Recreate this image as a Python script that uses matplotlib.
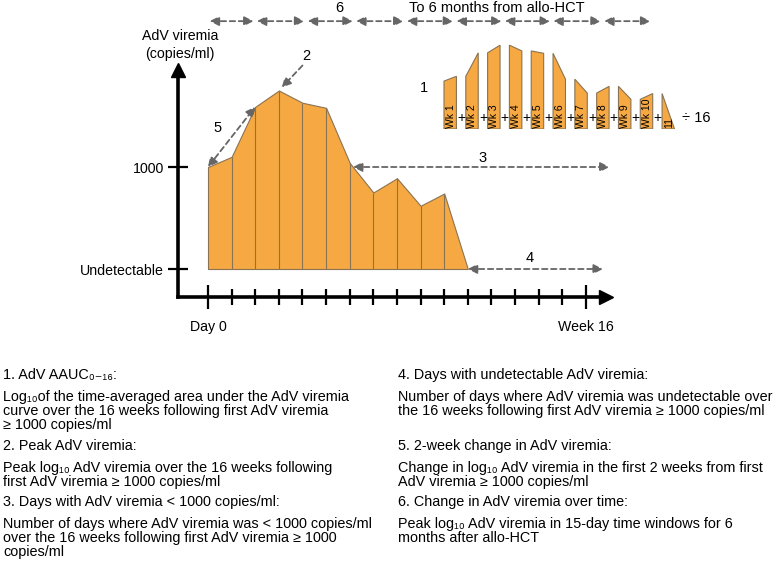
#!/usr/bin/env python3
"""Schematic of the AdV viremia summary measures (AAUC, peak, days < 1000, ...)."""

import matplotlib.pyplot as plt
import numpy as np

plt.rcParams["font.family"] = ["Liberation Sans", "DejaVu Sans"]

# schematic viremia course, log10 copies/ml per week from first viremia >= 1000
WEEKS = np.arange(12)
LOG_VIREMIA = np.array([3.0, 3.10, 3.59, 3.75, 3.63, 3.58, 3.04, 2.75, 2.89, 2.62, 2.74, 2.0])
UNDETECTABLE = 2.0
THRESHOLD = 3.0  # log10(1000)

Y_TICKS = [UNDETECTABLE, THRESHOLD]
Y_TICK_LABELS = ["Undetectable", "1000"]
X_TICKS = [0, 16]
X_TICK_LABELS = ["Day 0", "Week 16"]
INSET_LABELS = ["Wk 1", "Wk 2", "Wk 3", "Wk 4", "Wk 5", "Wk 6", "Wk 7", "Wk 8", "Wk 9", "Wk 10", "11"]

# 15-day windows (in weeks) up to the right edge of the figure
WINDOW_EDGES_WK = [0, 2.0, 4.15, 6.2, 8.35, 10.45, 12.5, 14.55, 16.7, 18.8]

LEFT_BLOCKS = [
    ("1. AdV AAUC\u2080\u208b\u2081\u2086:",
     ["Log\u2081\u2080of the time-averaged area under the AdV viremia",
      "curve over the 16 weeks following first AdV viremia",
      "\u2265 1000 copies/ml"]),
    ("2. Peak AdV viremia:",
     ["Peak log\u2081\u2080 AdV viremia over the 16 weeks following",
      "first AdV viremia \u2265 1000 copies/ml"]),
    ("3. Days with AdV viremia < 1000 copies/ml:",
     ["Number of days where AdV viremia was < 1000 copies/ml",
      "over the 16 weeks following first AdV viremia \u2265 1000",
      "copies/ml"]),
]
RIGHT_BLOCKS = [
    ("4. Days with undetectable AdV viremia:",
     ["Number of days where AdV viremia was undetectable over",
      "the 16 weeks following first AdV viremia \u2265 1000 copies/ml"]),
    ("5. 2-week change in AdV viremia:",
     ["Change in log\u2081\u2080 AdV viremia in the first 2 weeks from first",
      "AdV viremia \u2265 1000 copies/ml"]),
    ("6. Change in AdV viremia over time:",
     ["Peak log\u2081\u2080 AdV viremia in 15-day time windows for 6",
      "months after allo-HCT"]),
]

W, H = 779, 566
FILL = "#f6a843"
EDGE = "#8a7352"
ARROW = "#666666"


def fig_box(left, top, right, bottom):
    return [left / W, 1 - bottom / H, (right - left) / W, (bottom - top) / H]


def dashed_arrow(ax, start, end, style="<|-|>", shrink=0):
    ax.annotate(
        "",
        xy=end,
        xytext=start,
        arrowprops=dict(
            arrowstyle=style + ",head_length=0.55,head_width=0.28",
            color=ARROW,
            lw=1.3,
            linestyle=(0, (3, 2)),
            shrinkA=shrink,
            shrinkB=shrink,
        ),
        annotation_clip=False,
    )


def label(ax, x, y, s):
    ax.text(x, y, s, ha="center", va="center", fontsize=10.5)


fig = plt.figure(figsize=(W / 100, H / 100), dpi=100)

# main curve
ax = fig.add_axes(fig_box(178, 70, 606, 297))
ax.set_xlim(-1.27, 16.85)
ax.set_ylim(1.7255, 3.951)
ax.spines[["top", "right"]].set_visible(False)
for side in ("left", "bottom"):
    ax.spines[side].set_linewidth(2.6)
ax.plot(1, 0, ">", color="black", ms=10, transform=ax.transAxes, clip_on=False)
ax.plot(0, 1, "^", color="black", ms=10, transform=ax.transAxes, clip_on=False)

ax.set_xticks(X_TICKS, X_TICK_LABELS)
ax.set_xticks(range(1, 16), minor=True)
ax.tick_params(axis="x", which="major", direction="inout", length=17, width=1.6, pad=8, labelsize=10.2)
ax.tick_params(axis="x", which="minor", direction="inout", length=11, width=1.6)
ax.set_yticks(Y_TICKS, Y_TICK_LABELS)
ax.tick_params(axis="y", direction="inout", length=14, width=1.6, pad=3, labelsize=10.2)

ax.fill_between(WEEKS, UNDETECTABLE, LOG_VIREMIA, facecolor=FILL, edgecolor=EDGE, lw=0.8)
ax.vlines(WEEKS[1:-1], UNDETECTABLE, LOG_VIREMIA[1:-1], color=EDGE, lw=0.8)

fig.text(180 / W, 1 - 45 / H, "AdV viremia\n(copies/ml)", ha="center", va="center",
         fontsize=10.2, linespacing=1.3)

# 2: peak
peak_i = int(np.argmax(LOG_VIREMIA))
peak = (WEEKS[peak_i], LOG_VIREMIA[peak_i])
ax.annotate("", xy=peak, xytext=(17, 18), textcoords="offset points",
            arrowprops=dict(arrowstyle="-|>,head_length=0.55,head_width=0.28", color=ARROW,
                            lw=1.3, linestyle=(0, (3, 2)), shrinkA=0, shrinkB=3),
            annotation_clip=False)
ax.annotate("2", xy=peak, xytext=(20, 25), textcoords="offset points",
            ha="center", va="center", fontsize=10.5)

# 5: 2-week change
dashed_arrow(ax, (WEEKS[0], LOG_VIREMIA[0]), (WEEKS[2], LOG_VIREMIA[2]))
label(ax, 0.42, 3.38, "5")

# 3: days below 1000 copies/ml
k = peak_i + int(np.argmax(LOG_VIREMIA[peak_i:] < THRESHOLD)) - 1
cross = WEEKS[k] + (LOG_VIREMIA[k] - THRESHOLD) / (LOG_VIREMIA[k] - LOG_VIREMIA[k + 1])
dashed_arrow(ax, (cross, THRESHOLD), (17.0, THRESHOLD))
label(ax, 11.64, 3.085, "3")

# 4: days undetectable
last = WEEKS[-1]
dashed_arrow(ax, (last, UNDETECTABLE), (16.72, UNDETECTABLE))
label(ax, 13.63, 2.11, "4")

# 6: 15-day windows
y_top = 4.43
for a, b in zip(WINDOW_EDGES_WK[:-1], WINDOW_EDGES_WK[1:]):
    dashed_arrow(ax, (a, y_top), (b, y_top), shrink=1.2)
label(ax, 5.55, 4.56, "6")
ax.text(12.23, 4.56, "To 6 months from allo-HCT", ha="center", va="center", fontsize=10.5)

# 1: weekly areas summed and divided by 16
axi = fig.add_axes(fig_box(440, 40, 690, 129))
axi.set_xlim(-0.183, 11.28)
axi.set_ylim(0, 1.858)
axi.axis("off")
bar_w = 0.57
for i, name in enumerate(INSET_LABELS):
    h0 = LOG_VIREMIA[i] - UNDETECTABLE
    h1 = LOG_VIREMIA[i + 1] - UNDETECTABLE
    axi.fill([i, i, i + bar_w, i + bar_w], [0, h0, h1, 0], facecolor=FILL, edgecolor=EDGE, lw=0.8)
    axi.text(i + bar_w / 2 + 0.02, 0.03, name, rotation=90, ha="center", va="bottom", fontsize=7.5)
    if i < len(INSET_LABELS) - 1:
        axi.text(i + bar_w + (1 - bar_w) / 2, 0.23, "+", ha="center", va="center", fontsize=10)
axi.text(10.92, 0.23, "\u00f7 16", ha="left", va="center", fontsize=10.5)
axi.text(-0.92, 0.86, "1", ha="center", va="center", fontsize=10.5)

# definitions below the chart
heading_y = [375, 446, 502]
for x0, blocks in ((3, LEFT_BLOCKS), (398, RIGHT_BLOCKS)):
    for y0, (head, body) in zip(heading_y, blocks):
        fig.text(x0 / W, 1 - (y0 + 4) / H, head, ha="left", va="baseline", fontsize=10.4)
        for j, line in enumerate(body):
            y = y0 + 22 + 13.8 * j
            fig.text(x0 / W, 1 - (y + 4) / H, line, ha="left", va="baseline", fontsize=10.4)

fig.savefig("out.png", dpi=100)
